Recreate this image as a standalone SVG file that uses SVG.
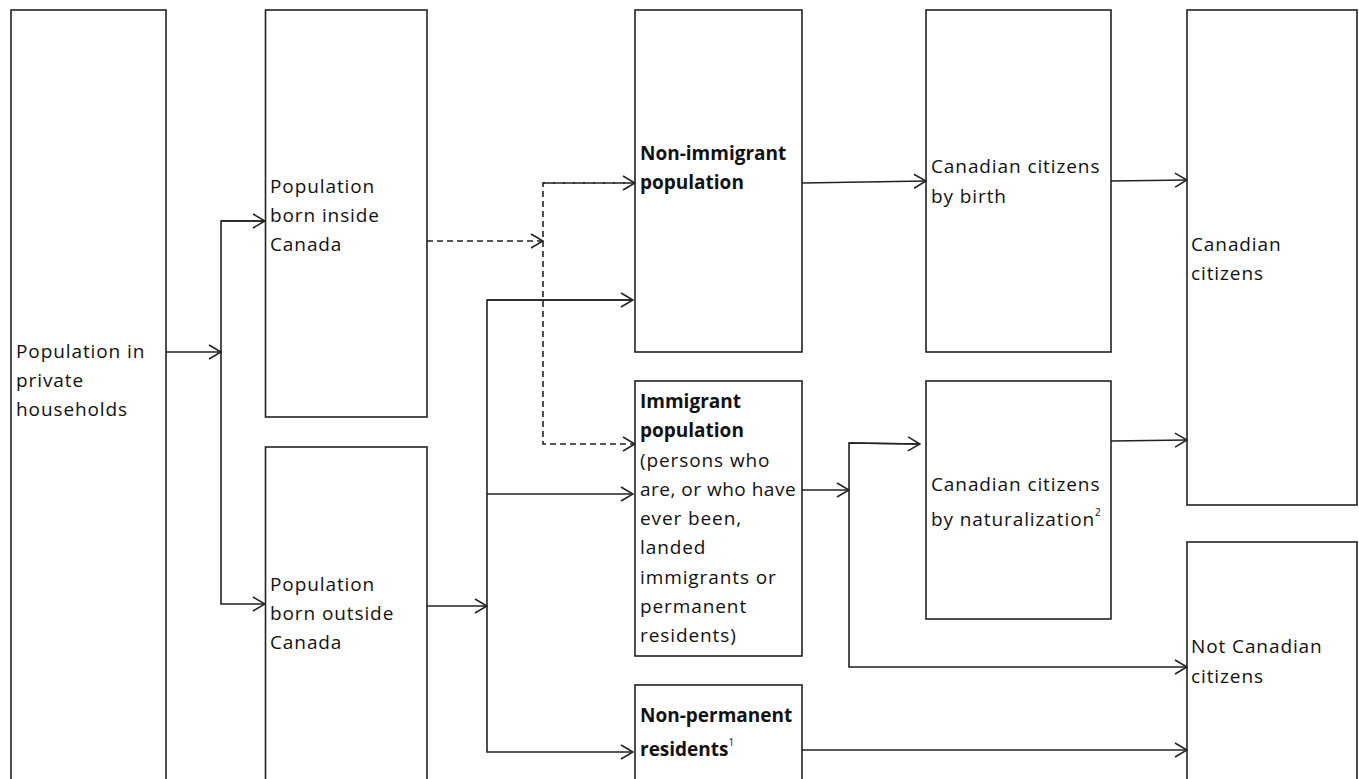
<svg xmlns="http://www.w3.org/2000/svg" width="1359" height="779" viewBox="0 0 1359 779">
  <style>
    .box { fill: #ffffff; stroke: #222; stroke-width: 1.6; }
    .lbl { font-family: "Open Sans", "Noto Sans", sans-serif; font-size: 19px; letter-spacing: 0.9px; fill: #111; }
    .b { font-weight: bold; letter-spacing: 0px; }
    .tight { letter-spacing: 0.5px; }
    .sup { font-size: 10px; }
    .ln { fill: none; stroke: #222; stroke-width: 1.6; }
    .dash { stroke-dasharray: 6 4; }
  </style>
  <defs>
    <marker id="arr" viewBox="0 0 14 16" refX="13" refY="8" markerWidth="14" markerHeight="16" markerUnits="userSpaceOnUse" orient="auto">
      <path d="M1,1 L13,8 L1,15" fill="none" stroke="#222" stroke-width="1.6"/>
    </marker>
  </defs>
  <rect width="1359" height="779" fill="#ffffff"/>

  <g id="node-private-households">
    <rect class="box" x="11" y="10" width="155" height="790"/>
    <text class="lbl" x="16" y="358">Population in</text>
    <text class="lbl" x="16" y="387">private</text>
    <text class="lbl" x="16" y="416">households</text>
  </g>
  <g id="node-born-inside">
    <rect class="box" x="265.5" y="10" width="161.5" height="407"/>
    <text class="lbl" x="270" y="193">Population</text>
    <text class="lbl" x="270" y="222">born inside</text>
    <text class="lbl" x="270" y="251">Canada</text>
  </g>
  <g id="node-born-outside">
    <rect class="box" x="265.5" y="447" width="161.5" height="360"/>
    <text class="lbl" x="270" y="591">Population</text>
    <text class="lbl" x="270" y="620">born outside</text>
    <text class="lbl" x="270" y="649">Canada</text>
  </g>
  <g id="node-non-immigrant">
    <rect class="box" x="635" y="10" width="167" height="342"/>
    <text class="lbl b" x="640" y="160">Non-immigrant</text>
    <text class="lbl b" x="640" y="189">population</text>
  </g>
  <g id="node-immigrant">
    <rect class="box" x="635" y="381" width="167" height="275"/>
    <text class="lbl b" x="640" y="408">Immigrant</text>
    <text class="lbl b" x="640" y="437">population</text>
    <text class="lbl" x="640" y="467">(persons who</text>
    <text class="lbl tight" x="640" y="496">are, or who have</text>
    <text class="lbl" x="640" y="525">ever been,</text>
    <text class="lbl" x="640" y="554">landed</text>
    <text class="lbl" x="640" y="584">immigrants or</text>
    <text class="lbl" x="640" y="613">permanent</text>
    <text class="lbl" x="640" y="642">residents)</text>
  </g>
  <g id="node-non-permanent">
    <rect class="box" x="635" y="685" width="167" height="120"/>
    <text class="lbl b" x="640" y="722">Non-permanent</text>
    <text class="lbl b" x="640" y="756">residents<tspan class="sup" dy="-10" font-weight="normal">1</tspan></text>
  </g>
  <g id="node-citizens-by-birth">
    <rect class="box" x="926" y="10" width="185" height="342"/>
    <text class="lbl" x="931" y="173">Canadian citizens</text>
    <text class="lbl" x="931" y="203">by birth</text>
  </g>
  <g id="node-citizens-by-naturalization">
    <rect class="box" x="926" y="381" width="185" height="238"/>
    <text class="lbl" x="931" y="491">Canadian citizens</text>
    <text class="lbl" x="931" y="526">by naturalization<tspan class="sup" dy="-10">2</tspan></text>
  </g>
  <g id="node-canadian-citizens">
    <rect class="box" x="1187" y="10" width="170" height="495"/>
    <text class="lbl" x="1191" y="251">Canadian</text>
    <text class="lbl" x="1191" y="280">citizens</text>
  </g>
  <g id="node-not-canadian-citizens">
    <rect class="box" x="1187" y="542" width="170" height="260"/>
    <text class="lbl" x="1191" y="653">Not Canadian</text>
    <text class="lbl" x="1191" y="683">citizens</text>
  </g>

  <g id="connectors">
    <!-- households split by place of birth -->
    <line class="ln" x1="166" y1="352" x2="221" y2="352" marker-end="url(#arr)"/>
    <polyline class="ln" points="265,221 221,221 221,604 265,604" marker-end="url(#arr)"/>
    <line class="ln" x1="221" y1="221" x2="265" y2="221" marker-end="url(#arr)"/>

    <!-- born inside Canada (dashed) -->
    <line class="ln dash" x1="427" y1="241" x2="543" y2="241" marker-end="url(#arr)"/>
    <polyline class="ln dash" points="635,183 543,183 543,444 635,444" marker-end="url(#arr)"/>
    <line class="ln dash" x1="543" y1="183" x2="635" y2="183" marker-end="url(#arr)"/>

    <!-- born outside Canada -->
    <line class="ln" x1="427" y1="606" x2="487" y2="606" marker-end="url(#arr)"/>
    <polyline class="ln" points="633,300 487,300 487,752 633,752" marker-end="url(#arr)"/>
    <line class="ln" x1="487" y1="300" x2="633" y2="300" marker-end="url(#arr)"/>
    <line class="ln" x1="487" y1="494" x2="633" y2="494" marker-end="url(#arr)"/>

    <!-- citizenship -->
    <line class="ln" x1="802" y1="183" x2="926" y2="181" marker-end="url(#arr)"/>
    <line class="ln" x1="1111" y1="181" x2="1187" y2="180" marker-end="url(#arr)"/>
    <line class="ln" x1="802" y1="490" x2="849" y2="490" marker-end="url(#arr)"/>
    <polyline class="ln" points="920,444 849,443 849,667 1187,667" marker-end="url(#arr)"/>
    <line class="ln" x1="849" y1="443" x2="920" y2="444" marker-end="url(#arr)"/>
    <line class="ln" x1="1111" y1="441" x2="1187" y2="440" marker-end="url(#arr)"/>
    <line class="ln" x1="802" y1="750" x2="1187" y2="750" marker-end="url(#arr)"/>
  </g>
</svg>
